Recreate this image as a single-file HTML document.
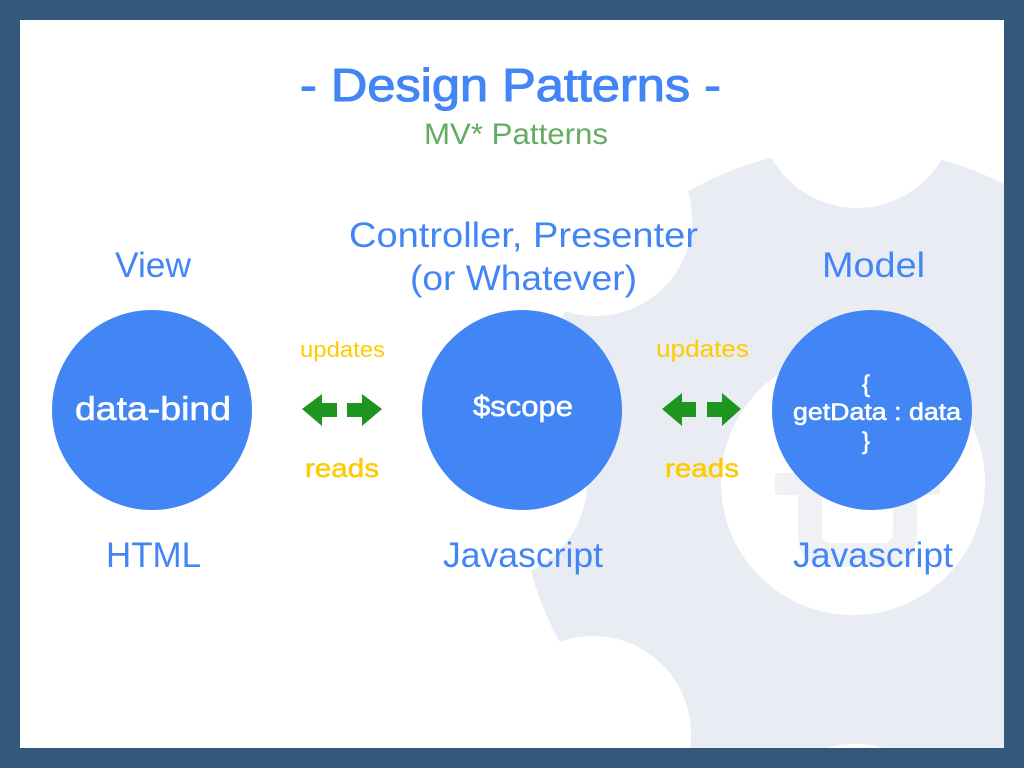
<!DOCTYPE html>
<html><head><meta charset="utf-8"><title>Design Patterns</title>
<style>
html,body{margin:0;padding:0;width:1024px;height:768px;overflow:hidden;background:#34577c}
svg{display:block;overflow:hidden}
text{font-family:"Liberation Sans",sans-serif;text-anchor:start}
.b{fill:#4285f4}
.s{stroke-linejoin:round;paint-order:stroke}
.w{fill:#fff;stroke:#fff;stroke-width:.6}
.y{fill:#fecb00}
</style></head><body>
<svg width="1024" height="768" viewBox="0 0 1024 768" xmlns="http://www.w3.org/2000/svg">
<rect width="1024" height="768" fill="#34577c"/>
<rect x="20" y="20" width="984" height="728" fill="#fff"/>
<path d="M1004 184A334 334 0 0 0 651 748L1004 748Z" fill="#e9edf3"/>
<g fill="#fff">
<path d="M818 20A98 98 0 1 0 896 20Z"/>
<circle cx="595" cy="219" r="97"/>
<circle cx="489" cy="482" r="98"/>
<path d="M496 748A98 98 0 1 1 690 748Z"/>
<path d="M827 748A98 98 0 0 1 883 748Z"/>
<circle cx="853" cy="483" r="132"/>
</g>
<path d="M779 473H936Q940 473 940 477V491Q940 495 936 495H917V535Q917 567 885 567H830Q798 567 798 535V495H779Q775 495 775 491V477Q775 473 779 473ZM822 473V533Q822 543 832 543H883Q893 543 893 533V473Z" fill="#eff1f5" fill-rule="evenodd"/>
<circle cx="152" cy="410" r="100" fill="#4285f4"/>
<circle cx="522" cy="410" r="100" fill="#4285f4"/>
<circle cx="872" cy="410" r="100" fill="#4285f4"/>
<g fill="#1e951e">
<path d="M302 409L322 394V403H337V417H322V426Z"/>
<path d="M382 409L362 394V403H347V417H362V426Z"/>
<path d="M662 409L682 393V402H696V417H682V426Z"/>
<path d="M741 409L722 393V402H707V417H722V426Z"/>
</g>
<text class="b s" stroke="#4285f4" stroke-width="1.1" x="300" y="101" font-size="46" textLength="421" lengthAdjust="spacingAndGlyphs">- Design Patterns -</text>
<text x="424" y="144" font-size="30" fill="#63ac62" textLength="184" lengthAdjust="spacingAndGlyphs">MV* Patterns</text>
<text class="b" x="115" y="277" font-size="35" textLength="76" lengthAdjust="spacingAndGlyphs">View</text>
<text class="b" x="349" y="247" font-size="35" textLength="349" lengthAdjust="spacingAndGlyphs">Controller, Presenter</text>
<text class="b" x="410" y="290" font-size="35" textLength="227" lengthAdjust="spacingAndGlyphs">(or Whatever)</text>
<text class="b" x="822" y="277" font-size="35" textLength="103" lengthAdjust="spacingAndGlyphs">Model</text>
<text class="b" x="106" y="567" font-size="35" textLength="95" lengthAdjust="spacingAndGlyphs">HTML</text>
<text class="b" x="443" y="567" font-size="35" textLength="160" lengthAdjust="spacingAndGlyphs">Javascript</text>
<text class="b" x="793" y="567" font-size="35" textLength="160" lengthAdjust="spacingAndGlyphs">Javascript</text>
<text class="w s" x="75" y="420" font-size="33" textLength="156" lengthAdjust="spacingAndGlyphs">data-bind</text>
<text class="w s" x="473" y="416" font-size="29" textLength="100" lengthAdjust="spacingAndGlyphs">$scope</text>
<text class="w s" x="862" y="392" font-size="24">{</text>
<text class="w s" x="793" y="420" font-size="24" textLength="168" lengthAdjust="spacingAndGlyphs">getData : data</text>
<text class="w s" x="862" y="449" font-size="24">}</text>
<text class="y" x="300" y="357" font-size="22" textLength="85" lengthAdjust="spacingAndGlyphs">updates</text>
<text class="y" x="656" y="357" font-size="24" textLength="93" lengthAdjust="spacingAndGlyphs">updates</text>
<text class="y s" stroke="#fecb00" stroke-width=".5" x="305" y="477" font-size="26" textLength="74" lengthAdjust="spacingAndGlyphs">reads</text>
<text class="y s" stroke="#fecb00" stroke-width=".5" x="665" y="477" font-size="26" textLength="74" lengthAdjust="spacingAndGlyphs">reads</text>
</svg>
</body></html>
